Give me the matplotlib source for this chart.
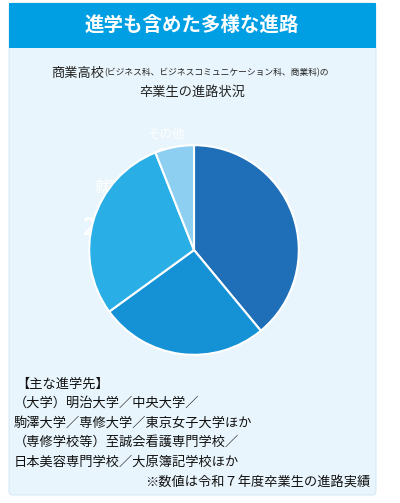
import matplotlib
matplotlib.use("Agg")
import matplotlib.pyplot as plt
from matplotlib.patches import Rectangle, FancyBboxPatch

plt.rcParams["font.family"] = ["Noto Sans CJK JP", "DejaVu Sans"]

labels = ["進学(大学)", "進学(専修学校等)", "就職", "その他"]
values = [39, 26, 29, 6]
colors = ["#1f6fb8", "#1592d6", "#2aaee6", "#8ccff1"]

W, H = 400, 503
fig = plt.figure(figsize=(W / 100, H / 100), dpi=100)
bg = fig.add_axes([0, 0, 1, 1])
bg.set_xlim(0, W)
bg.set_ylim(H, 0)
bg.axis("off")
bg.add_patch(FancyBboxPatch((9, 3), 367, 492, boxstyle="round,pad=0,rounding_size=4",
                            fc="#e9f5fc", ec="#d5e9f5", lw=0.8))
bg.add_patch(Rectangle((9, 3), 367, 45, fc="#009fe3", ec="none"))
bg.text(192, 25, "進学も含めた多様な進路", color="white", fontsize=14, fontweight="bold",
        ha="center", va="center")
bg.text(104, 73, "商業高校", fontsize=9.5, ha="right", va="center", color="#222")
bg.text(104, 73, "(ビジネス科、ビジネスコミュニケーション科、商業科)の", fontsize=6.3,
        ha="left", va="center", color="#222")
bg.text(192, 92, "卒業生の進路状況", fontsize=9.5, ha="center", va="center", color="#222")

notes = ["【主な進学先】",
         "（大学）明治大学／中央大学／",
         "駒澤大学／専修大学／東京女子大学ほか",
         "（専修学校等）至誠会看護専門学校／",
         "日本美容専門学校／大原簿記学校ほか"]
for i, t in enumerate(notes):
    bg.text(14 if i else 16, 384 + i * 19.5, t, fontsize=9.5, ha="left", va="center", color="#111")
bg.text(370, 482, "※数値は令和７年度卒業生の進路実績", fontsize=9.5, ha="right", va="center", color="#111")

cx, cy, r = 194, 250, 131
ax = fig.add_axes([(cx - r) / W, 1 - (cy + r) / H, 2 * r / W, 2 * r / H])
ax.pie(values, colors=colors, startangle=90, counterclock=False,
       wedgeprops=dict(edgecolor="white", linewidth=1.5))
ax.set_aspect("auto")

pos = [(254, 200, 238, 11, 17), (176, 305, 337, 11, 17), (110, 187, 228, 11, 17), (166, 134, 157, 9, 13)]
for (x, y1, y2, s1, s2), lab, v in zip(pos, labels, values):
    bg.text(x, y1, lab, color="white", fontsize=s1, ha="center", va="center")
    bg.text(x, y2, f"{v}", color="white", fontsize=s2, fontweight="bold", ha="right", va="center")
    bg.text(x + 1, y2 + 2, "%", color="white", fontsize=s2 * 0.7, fontweight="bold", ha="left", va="center")

fig.savefig("out.png", dpi=100)
